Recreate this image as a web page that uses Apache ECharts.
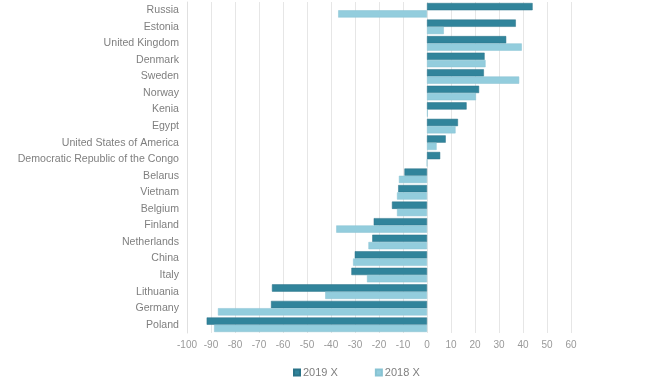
<!DOCTYPE html>
<html><head><meta charset="utf-8">
<script src="https://cdn.jsdelivr.net/npm/echarts@6/dist/echarts.min.js"></script>
<style>html,body{margin:0;padding:0;background:#fff}#c{width:650px;height:391px}</style>
</head><body><div id="c"></div>
<script>
const categories = ["Russia","Estonia","United Kingdom","Denmark","Sweden","Norway","Kenia","Egypt","United States of America","Democratic Republic of the Congo","Belarus","Vietnam","Belgium","Finland","Netherlands","China","Italy","Lithuania","Germany","Poland"];
const values2019 = [44, 37, 33, 24, 23.7, 21.7, 16.5, 12.9, 7.8, 5.5, -9.4, -12, -14.6, -22.2, -22.8, -30.1, -31.5, -64.6, -65, -91.8];
const values2018 = [-37, 7, 39.5, 24.4, 38.4, 20.4, 0.3, 11.9, 4, 0, -11.7, -12.5, -12.5, -37.8, -24.4, -30.8, -25, -42.4, -87.1, -88.7];
const xTicks = [-100, 60, 10];
const seriesNames = ["2019 X", "2018 X"];

const chart = echarts.init(document.getElementById('c'), null, {renderer: 'canvas'});
const font = 'Arial, "Liberation Sans", sans-serif';
chart.setOption({
  animation: false,
  grid: {left: 187, right: 79, top: 2, height: 331, containLabel: false},
  legend: {
    data: seriesNames, left: 293, top: 367, padding: 0, itemWidth: 6, itemHeight: 6, itemGap: 37,
    icon: 'rect', textStyle: {color: '#7f7f7f', fontSize: 11, fontFamily: font, padding: [0, 0, 0, -2]}
  },
  xAxis: {
    type: 'value', min: xTicks[0], max: xTicks[1], interval: xTicks[2],
    axisLine: {show: false}, axisTick: {show: false},
    axisLabel: {color: '#999999', fontSize: 10, fontFamily: font, margin: 7},
    splitLine: {lineStyle: {color: '#e6e6e6', width: 1}}
  },
  yAxis: {
    type: 'category', data: categories, inverse: true,
    axisLine: {show: true, onZero: false, lineStyle: {color: '#e0e0e0'}},
    axisTick: {show: false},
    axisLabel: {color: '#7f7f7f', fontSize: 10.6, fontFamily: font, margin: 8}
  },
  series: [
    {name: seriesNames[0], type: 'bar', data: values2019, barGap: '0%', barCategoryGap: '12%',
     itemStyle: {color: '#31849b', borderColor: '#2a7388', borderWidth: 0.5}},
    {name: seriesNames[1], type: 'bar', data: values2018, barGap: '0%', barCategoryGap: '12%',
     itemStyle: {color: '#93cddd', borderColor: '#88c3d3', borderWidth: 0.5}}
  ]
});
</script></body></html>
